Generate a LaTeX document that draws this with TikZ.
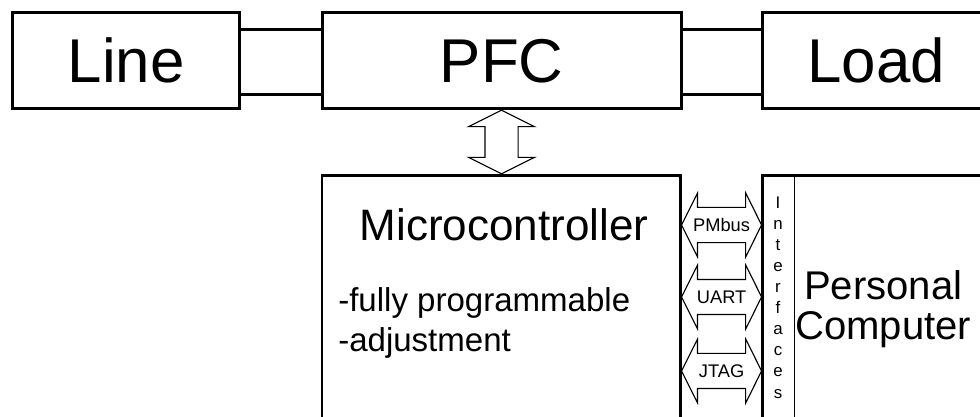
\documentclass[tikz,border=0pt]{standalone}
\usepackage{fontspec}
\setmainfont{Liberation Sans}
\usetikzlibrary{arrows.meta,positioning,calc,shapes.arrows}

\begin{document}
\begin{tikzpicture}[>=Stealth]
\tikzstyle{blk}=[draw,line width=2.1pt,minimum width=5.67cm,minimum height=2.4cm,font=\fontsize{44}{53}\selectfont]
\tikzstyle{bus}=[double arrow,draw,line width=0.8pt,double arrow tip angle=127,double arrow head extend=0.35cm,minimum height=2cm,minimum width=1.6cm,inner xsep=0pt,inner ysep=0.25cm,font=\fontsize{13}{15}\selectfont]
\useasboundingbox (0,0) rectangle (24.5,10.425);
\clip (0,0) rectangle (24.5,10.425);
% power path
\node[blk] (line) at (3.154,8.906) {Line};
\node[blk,minimum width=8.975cm] (pfc) at (12.54,8.906) {PFC};
\node[blk] (load) at (21.905,8.906) {Load};
\draw[line width=2.1pt] ([yshift=0.79cm]line.east) -- ([yshift=0.79cm]pfc.west) ([yshift=-0.84cm]line.east) -- ([yshift=-0.84cm]pfc.west);
\draw[line width=2.1pt] ([yshift=0.79cm]pfc.east) -- ([yshift=0.79cm]load.west) ([yshift=-0.84cm]pfc.east) -- ([yshift=-0.84cm]load.west);
% control part
\node[blk,minimum width=8.97cm,minimum height=6.5cm] (mcu) at (12.535,2.7925) {};
\node[blk,minimum width=6cm,minimum height=6.5cm] (pc) at (22.0575,2.7925) {};
\draw[line width=0.7pt] ([xshift=0.83cm]pc.north west) -- ([xshift=0.83cm]pc.south west);
\node[bus,shape border rotate=90,minimum height=1.59cm,minimum width=1.625cm,double arrow head extend=0.41cm,inner sep=0.4cm] (updown) at ($(pfc.south)!0.5!(mcu.north)$) {};
\node[bus] (pmbus) at (18.04,4.8) {PMbus};
\node[bus] (uart) at (18.04,3.0) {UART};
\node[bus] (jtag) at (18.04,1.15) {JTAG};
\node[font=\fontsize{12}{15}\selectfont,align=center,inner sep=0pt] (intf) at (19.45,2.99) {I\\n\\t\\e\\r\\f\\a\\c\\e\\s};
\node[anchor=base,font=\fontsize{31.3}{38}\selectfont] (mcutitle) at (12.6,4.4) {Microcontroller};
\node[anchor=base west,inner sep=0pt,font=\fontsize{23.5}{28}\selectfont] (feat1) at (8.45,2.625) {-fully programmable};
\node[anchor=base west,inner sep=0pt,font=\fontsize{23.5}{28}\selectfont] (feat2) at (8.45,1.625) {-adjustment};
\node[anchor=base,font=\fontsize{28.5}{34}\selectfont] (pctitle1) at (22.08,2.925) {Personal};
\node[anchor=base,font=\fontsize{28.5}{34}\selectfont] (pctitle2) at (22.08,1.925) {Computer};
\end{tikzpicture}
\end{document}
